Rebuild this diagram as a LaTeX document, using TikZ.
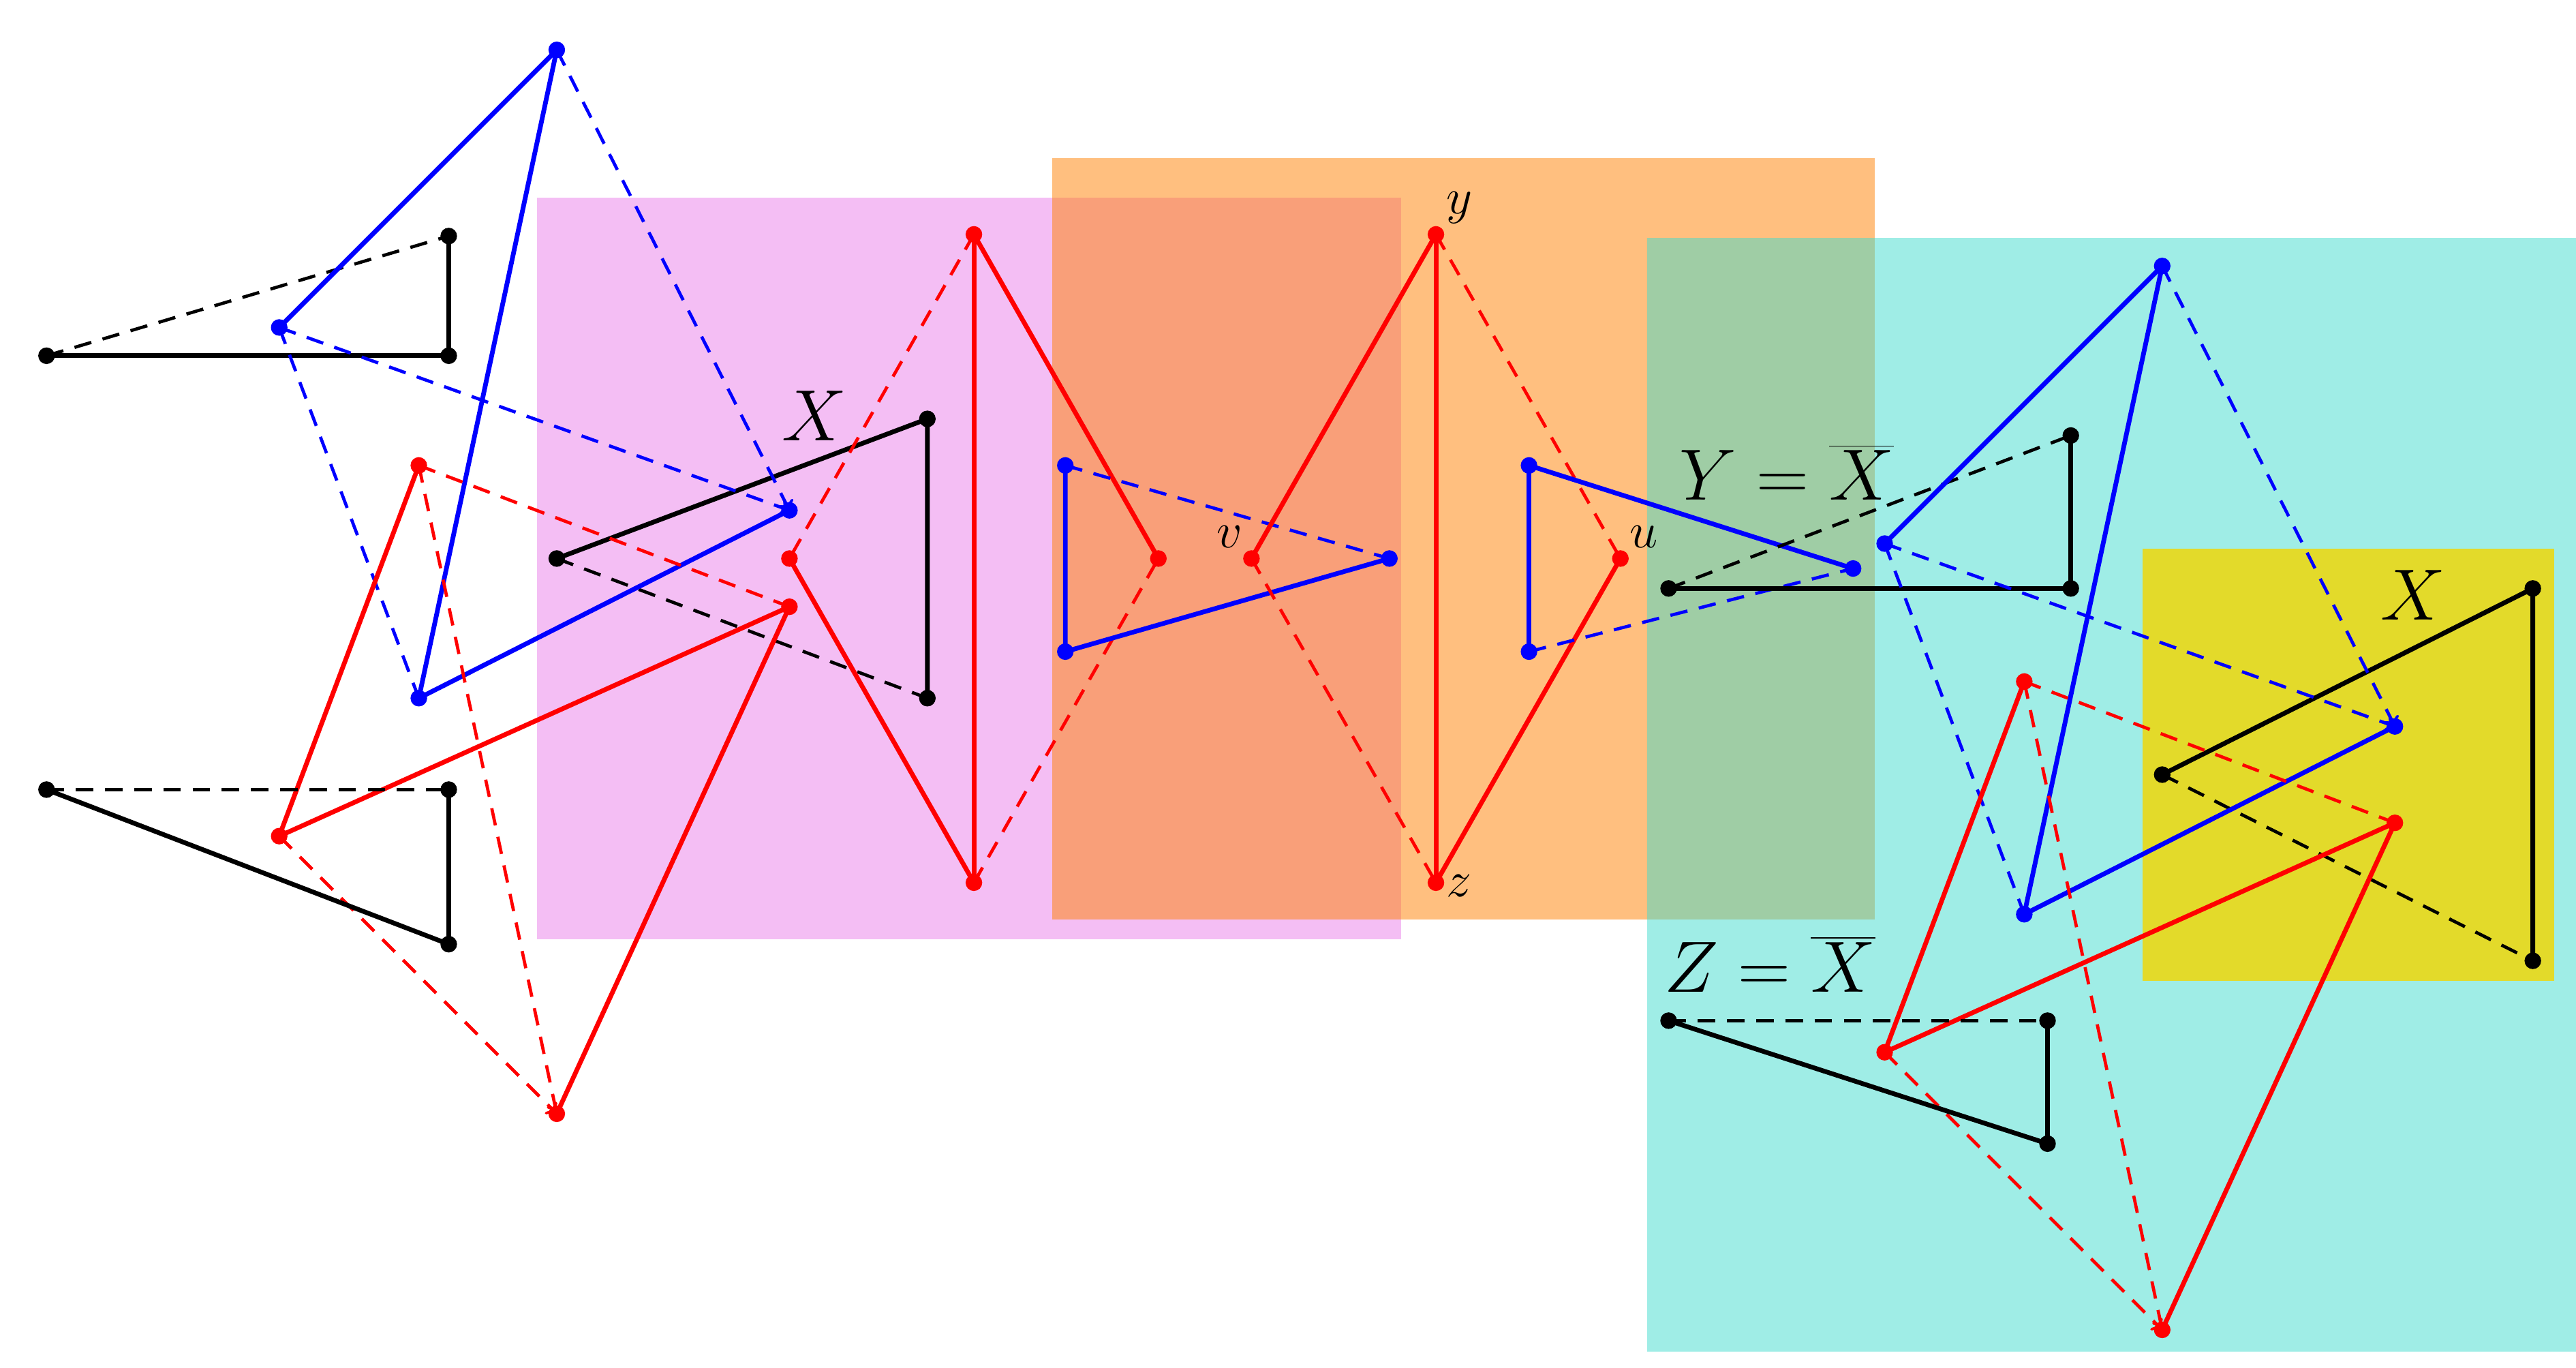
\documentclass[tikz,border=0pt]{standalone}
\begin{document}
\begin{tikzpicture}[x=0.02cm,y=-0.02cm,
  sl/.style={line width=1.6pt},
  dl/.style={line width=1.1pt,dash pattern=on 6pt off 4pt,-to},
  dn/.style={line width=1.1pt,dash pattern=on 6pt off 4pt},
  lab/.style={font=\Huge},
  sm/.style={font=\LARGE}]
\useasboundingbox (0,0) rectangle (1550,822.6);
\definecolor{pk}{RGB}{230,110,230}
\definecolor{tq}{RGB}{64,220,205}
\definecolor{yl}{RGB}{240,215,10}
\fill[pk,opacity=0.45] (323,119) rectangle (843,565);
\fill[orange,opacity=0.5] (633,95) rectangle (1128,553);
\fill[tq,opacity=0.5] (991,143) rectangle (1550,813);
\fill[yl,opacity=0.85] (1289,330) rectangle (1537,590);
\newcommand{\blk}[7]{%
 \draw[sl] (#1)--(#2)--(#3); \draw[dn] (#1)--(#3);
 \draw[sl] (#4)--(#5)--(#6); \draw[dn] (#4)--(#6);
 \foreach \p in {#1,#2,#3,#4,#5,#6} \fill (\p) circle (5);}
\newcommand{\grp}[3]{%
\begin{scope}[shift={(#1,#2)}]
 \coordinate (#3B1) at (335,30); \coordinate (#3B2) at (168,197); \coordinate (#3B3) at (252,420); \coordinate (#3B4) at (475,307);
 \coordinate (#3R1) at (252,280); \coordinate (#3R2) at (168,503); \coordinate (#3R3) at (475,365); \coordinate (#3R4) at (335,670);
\end{scope}
\draw[sl,blue] (#3B2)--(#3B1)--(#3B3)--(#3B4);
\draw[dl,blue] (#3B1)--(#3B4); \draw[dl,blue] (#3B2)--(#3B4); \draw[dn,blue] (#3B2)--(#3B3);
\draw[sl,red] (#3R1)--(#3R2)--(#3R3)--(#3R4);
\draw[dn,red] (#3R1)--(#3R3); \draw[dl,red] (#3R1)--(#3R4); \draw[dl,red] (#3R2)--(#3R4);
\foreach \p in {B1,B2,B3,B4} \fill[blue] (#3\p) circle (5);
\foreach \p in {R1,R2,R3,R4} \fill[red] (#3\p) circle (5);
}
% left group
\coordinate (La) at (28,214); \coordinate (Lb) at (270,214); \coordinate (Lc) at (270,142);
\coordinate (Lx1) at (335,336); \coordinate (Lx2) at (558,252); \coordinate (Lx3) at (558,420);
\blk{La}{Lb}{Lc}{Lx1}{Lx2}{Lx3}{}
\grp{0}{0}{L}
\coordinate (k1) at (28,475); \coordinate (k2) at (270,475); \coordinate (k3) at (270,568);
\draw[dn] (k1)--(k2); \draw[sl] (k2)--(k3)--(k1);
\foreach \p in {k1,k2,k3} \fill (\p) circle (5);
\node[lab] (lx) at (490,250) {$X$};
% middle red 1
\coordinate (m1) at (475,336); \coordinate (m2) at (586,141); \coordinate (m3) at (586,531); \coordinate (m4) at (697,336);
\draw[sl,red] (m2)--(m3); \draw[sl,red] (m2)--(m4); \draw[sl,red] (m1)--(m3);
\draw[dn,red] (m2)--(m1); \draw[dn,red] (m3)--(m4);
\foreach \p in {m1,m2,m3,m4} \fill[red] (\p) circle (5);
% blue middle
\coordinate (b1) at (641,280); \coordinate (b2) at (641,392); \coordinate (b3) at (836,336);
\draw[sl,blue] (b1)--(b2)--(b3); \draw[dn,blue] (b1)--(b3);
\foreach \p in {b1,b2,b3} \fill[blue] (\p) circle (5);
% red 2
\coordinate (y) at (864,141); \coordinate (z) at (864,531); \coordinate (v) at (753,336); \coordinate (u) at (975,336);
\draw[sl,red] (y)--(z); \draw[sl,red] (v)--(y); \draw[sl,red] (u)--(z);
\draw[dn,red] (y)--(u); \draw[dn,red] (v)--(z);
\foreach \p in {y,z,u,v} \fill[red] (\p) circle (5);
\node[sm] (ly) at (878,125) {$y$};
\node[sm] (lz) at (878,533) {$z$};
\node[sm] (lv) at (740,323) {$v$};
\node[sm] (lu) at (989,323) {$u$};
% blue 2
\coordinate (c1) at (920,280); \coordinate (c2) at (920,392); \coordinate (c3) at (1115,342);
\draw[sl,blue] (c1)--(c2); \draw[sl,blue] (c1)--(c3); \draw[dn,blue] (c2)--(c3);
\foreach \p in {c1,c2,c3} \fill[blue] (\p) circle (5);
% right group
\coordinate (Ra) at (1004,354); \coordinate (Rb) at (1246,354); \coordinate (Rc) at (1246,262);
\coordinate (Rx1) at (1301,466); \coordinate (Rx2) at (1524,354); \coordinate (Rx3) at (1524,578);
\blk{Ra}{Rb}{Rc}{Rx1}{Rx2}{Rx3}{}
\grp{966}{130}{R}
\coordinate (q1) at (1004,614); \coordinate (q2) at (1232,614); \coordinate (q3) at (1232,688);
\draw[dn] (q1)--(q2); \draw[sl] (q2)--(q3)--(q1);
\foreach \p in {q1,q2,q3} \fill (\p) circle (5);
\node[lab] (ly2) at (1075,284) {$Y=\overline{X}$};
\node[lab] (lz2) at (1065,580) {$Z=\overline{X}$};
\node[lab] (lx2) at (1452,358) {$X$};
\end{tikzpicture}
\end{document}
